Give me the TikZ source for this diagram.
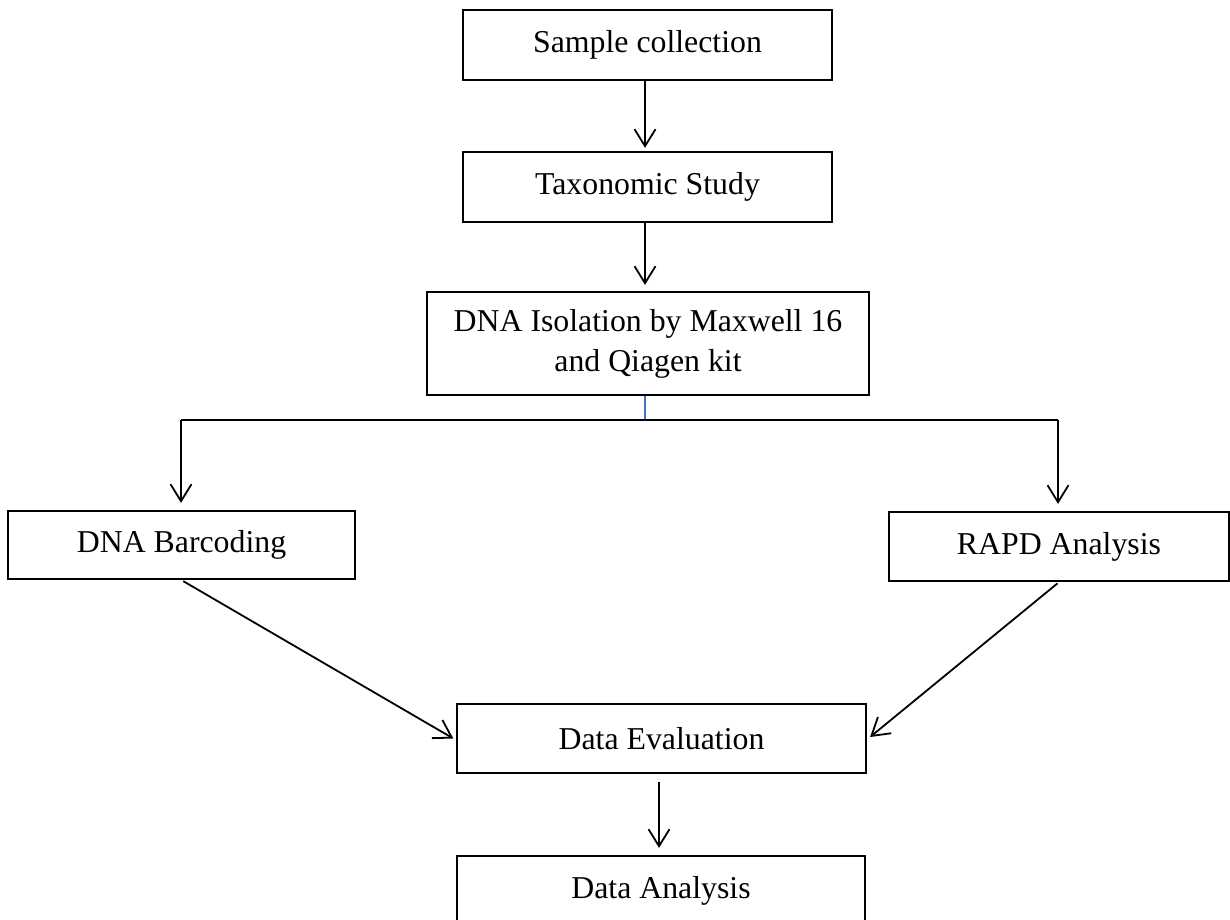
\documentclass[tikz,border=0pt]{standalone}
\usepackage{fontspec}
\setmainfont{Liberation Serif}
\usetikzlibrary{arrows.meta,calc}
\definecolor{splitblue}{RGB}{68,114,196}
\begin{document}
\begin{tikzpicture}[x=1pt,y=-1pt,
  box/.style={draw, line width=2.2pt, inner sep=0pt, align=center,
    font=\fontsize{31.8}{40}\selectfont},
  arr/.style={line width=1.8pt, -{Straight Barb[length=17pt,width=21pt,line width=1.8pt]}},
  ln/.style={line width=1.8pt}]
\useasboundingbox (0,0) rectangle (1230,919);
\clip (0,0) rectangle (1230,919);
\fill[white] (0,0) rectangle (1230,919);

\node[box, minimum width=369pt, minimum height=70pt] (sc) at (647.5,45) {Sample collection};
\node[box, minimum width=369pt, minimum height=70pt] (tax) at (647.5,187) {Taxonomic Study};
\node[box, minimum width=442pt, minimum height=103pt] (iso) at (648,343.5) {DNA Isolation by Maxwell 16\\and Qiagen kit};
\node[box, minimum width=347pt, minimum height=68pt] (bar) at (181.5,545) {DNA Barcoding};
\node[box, minimum width=340pt, minimum height=69pt] (rapd) at (1059,546.5) {RAPD Analysis};
\node[box, minimum width=409pt, minimum height=69pt] (eval) at (661.5,738.5) {Data Evaluation};
\node[box, minimum width=408pt, minimum height=69pt] (ana) at (661,890.5) {Data Analysis};

\coordinate (j) at (645,420);
\coordinate (jl) at (181,420);
\coordinate (jr) at (1058,420);
\coordinate (ja) at (659,0);

\draw[arr, shorten >=3pt] (sc.south -| j) -- (tax.north -| j);
\draw[arr, shorten >=6pt] (tax.south -| j) -- (iso.north -| j);
\draw[splitblue, line width=1.3pt] (iso.south -| j) -- (j);
\draw[ln] (jl) -- (jr);
\draw[arr, shorten >=7pt] (jl) -- (bar.north -| jl);
\draw[arr, shorten >=7pt] (jr) -- (rapd.north -| jr);
\draw[arr, shorten <=2pt, shorten >=3pt] (bar.south) -- ($(eval.west)+(0,1.5)$);
\draw[arr, shorten <=2pt] (rapd.south) -- ($(eval.east)+(3,-1.5)$);
\draw[arr, shorten <=8pt, shorten >=7pt] (eval.south -| ja) -- (ana.north -| ja);
\end{tikzpicture}
\end{document}
